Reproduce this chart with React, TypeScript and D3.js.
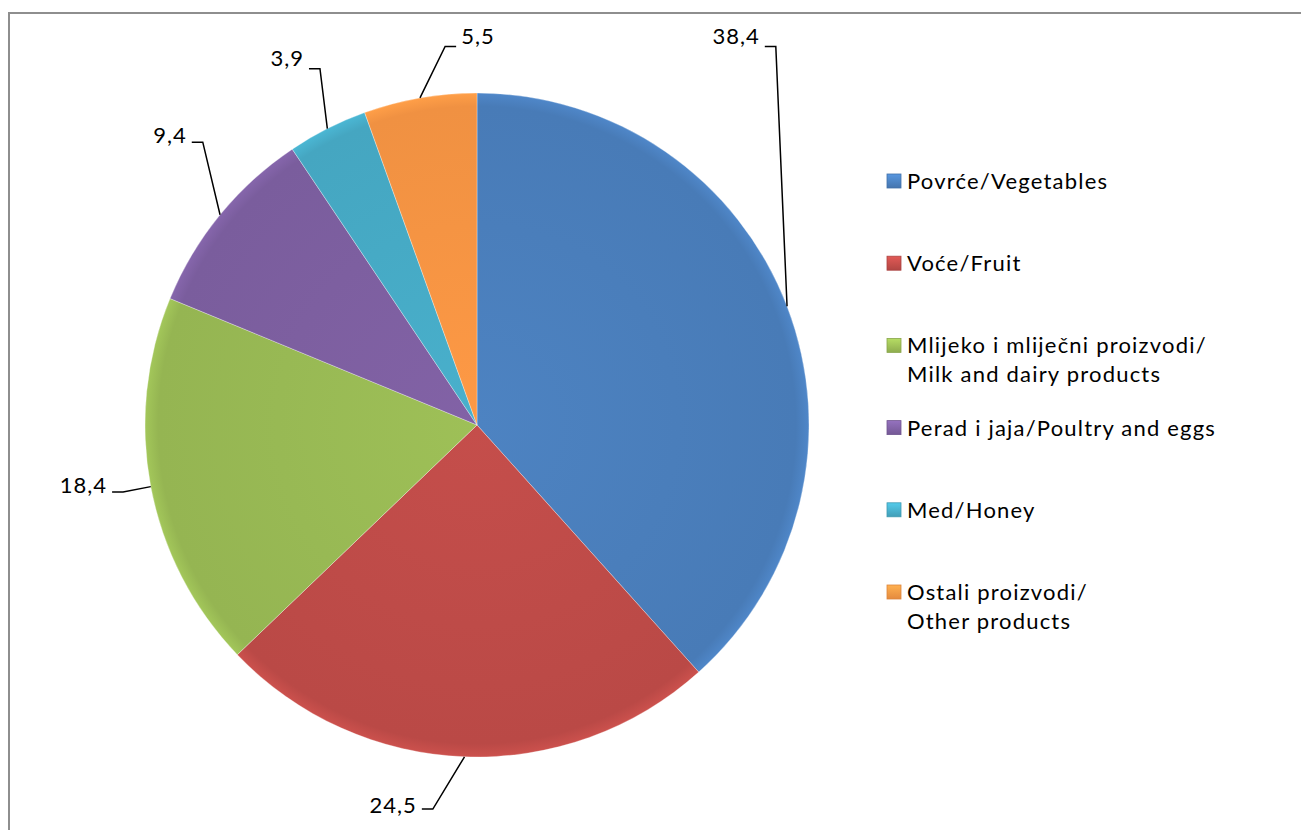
import React, { useRef, useEffect } from "react";
import * as d3 from "d3";

// share of sales by product group, %
const categories = [
  "Povrće/Vegetables",
  "Voće/Fruit",
  "Mlijeko i mliječni proizvodi/Milk and dairy products",
  "Perad i jaja/Poultry and eggs",
  "Med/Honey",
  "Ostali proizvodi/Other products",
];
const legendLines = [
  ["Povrće/Vegetables"],
  ["Voće/Fruit"],
  ["Mlijeko i mliječni proizvodi/", "Milk and dairy products"],
  ["Perad i jaja/Poultry and eggs"],
  ["Med/Honey"],
  ["Ostali proizvodi/", "Other products"],
];
const values = [38.4, 24.5, 18.4, 9.4, 3.9, 5.5];
const colors = ["#4a7ebb", "#be4b48", "#98b954", "#7d5fa0", "#46aac5", "#f59443"];

// where excel parked the leader-line elbows (in pie radii from centre), and which way the label hangs
const labelElbows = [
  [0.9, -1.14],
  [-0.133, 1.157],
  [-1.066, 0.202],
  [-0.826, -0.852],
  [-0.473, -1.073],
  [-0.096, -1.14],
];
const labelSide = [-1, -1, -1, -1, -1, 1];

const W = 1301;
const H = 830;
const FONT = "Lato, 'Open Sans', sans-serif";

export default function App() {
  const ref = useRef<SVGSVGElement>(null);

  useEffect(() => {
    const svg = d3.select(ref.current);
    svg.selectAll("*").remove();

    const cx = 477;
    const cy = 425;
    const radius = 332;
    const fmt = d3.formatLocale({ decimal: ",", thousands: ".", grouping: [3], currency: ["", ""] }).format(".1f");

    const data = categories.map((c, i) => ({ name: c, value: values[i], color: colors[i], i }));
    const pie = d3.pie<any>().value((d) => d.value).sort(null);
    const arcs = pie(data);
    const arc = d3.arc<any>().innerRadius(0).outerRadius(radius);
    const edgeArc = d3.arc<any>().innerRadius(radius).outerRadius(radius);

    // chart frame (runs off the right/bottom of the page)
    svg.append("rect")
      .attr("x", 9).attr("y", 13)
      .attr("width", W + 50).attr("height", H + 50)
      .attr("fill", "#fff")
      .attr("stroke", "#8e8e8e")
      .attr("stroke-width", 2);

    const defs = svg.append("defs");
    data.forEach((d) => {
      const base = d3.color(d.color)!;
      const g = defs.append("radialGradient")
        .attr("id", "slice" + d.i)
        .attr("gradientUnits", "userSpaceOnUse")
        .attr("cx", 0).attr("cy", 0).attr("r", radius);
      g.append("stop").attr("offset", 0).attr("stop-color", base.brighter(0.1).toString());
      g.append("stop").attr("offset", 0.6).attr("stop-color", base.toString());
      g.append("stop").attr("offset", 0.96).attr("stop-color", base.darker(0.06).toString());
      g.append("stop").attr("offset", 1).attr("stop-color", base.brighter(0.2).toString());

      const lg = defs.append("linearGradient")
        .attr("id", "key" + d.i)
        .attr("x1", 0).attr("y1", 0).attr("x2", 0).attr("y2", 1);
      lg.append("stop").attr("offset", 0).attr("stop-color", base.brighter(0.5).toString());
      lg.append("stop").attr("offset", 1).attr("stop-color", base.darker(0.2).toString());
    });

    const g = svg.append("g").attr("transform", `translate(${cx},${cy})`);

    g.selectAll("path.slice")
      .data(arcs)
      .enter()
      .append("path")
      .attr("class", "slice")
      .attr("d", arc)
      .attr("fill", (d) => `url(#slice${d.data.i})`)
      .attr("stroke", "rgba(255,255,255,0.3)")
      .attr("stroke-width", 1);

    // leader lines + value labels
    const lbl = g.append("g").attr("class", "labels");
    arcs.forEach((d, i) => {
      const p = edgeArc.centroid(d);
      const ex = labelElbows[i][0] * radius;
      const ey = labelElbows[i][1] * radius;
      const side = labelSide[i];
      lbl.append("polyline")
        .attr("points", [p, [ex, ey], [ex + side * 11, ey]].map((q) => q.join(",")).join(" "))
        .attr("fill", "none")
        .attr("stroke", "#000")
        .attr("stroke-width", 1.5);
      lbl.append("text")
        .attr("x", ex + side * 16)
        .attr("y", ey + (ey < -300 ? -3 : ey > 300 ? 4 : 1))
        .attr("text-anchor", side < 0 ? "end" : "start")
        .attr("font-family", FONT)
        .attr("font-size", 22)
        .attr("letter-spacing", 1)
        .attr("fill", "#000")
        .text(fmt(d.data.value));
    });

    // legend
    const rowY = d3.scaleLinear().domain([0, 1]).range([181.5, 263.7]);
    const leg = svg.append("g").attr("class", "legend");
    legendLines.forEach((lines, i) => {
      const y = rowY(i);
      leg.append("rect")
        .attr("x", 887).attr("y", y - 7.5)
        .attr("width", 14).attr("height", 14)
        .attr("fill", `url(#key${i})`)
        .attr("stroke", d3.color(colors[i])!.darker(0.3).toString())
        .attr("stroke-width", 0.8);
      const t = leg.append("text")
        .attr("font-family", FONT)
        .attr("font-size", 22)
        .attr("letter-spacing", 1.2)
        .attr("fill", "#000");
      lines.forEach((ln, j) => {
        t.append("tspan")
          .attr("x", 907)
          .attr("y", y + 7.5 + j * 29)
          .text(ln);
      });
    });
  }, []);

  return (
    <svg
      ref={ref}
      width={W}
      height={H}
      style={{ position: "absolute", left: 0, top: 0, background: "#fff" }}
    />
  );
}
